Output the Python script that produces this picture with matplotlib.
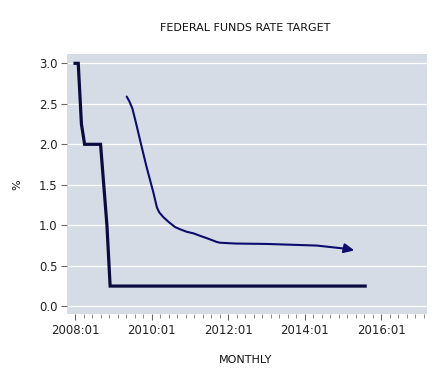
import matplotlib
matplotlib.use("Agg")
import matplotlib.pyplot as plt
from matplotlib.ticker import MultipleLocator, FuncFormatter

# --- data -------------------------------------------------------------
# fed funds target, monthly from 2008:01 to 2015:08
rate_2008 = [3.0, 3.0, 2.25, 2.0, 2.0, 2.0, 2.0, 2.0, 2.0, 1.5, 1.0, 0.25]
n_zero_months = 80  # 2009:01 .. 2015:08 at the 0.25 upper bound
rates = rate_2008 + [0.25] * n_zero_months
months = [2008 + i / 12 for i in range(len(rates))]

# hand drawn arrow over the chart (year, %)
arrow_x = [2009.35, 2009.42, 2009.50, 2009.60, 2009.70, 2009.87, 2009.96,
           2010.05, 2010.10, 2010.14, 2010.20, 2010.31, 2010.45, 2010.61,
           2010.75, 2010.92, 2011.10, 2011.27, 2011.45, 2011.62, 2011.70,
           2011.79, 2012.20, 2013.01, 2014.32, 2015.10]
arrow_y = [2.59, 2.53, 2.44, 2.25, 2.05, 1.72, 1.56,
           1.40, 1.30, 1.22, 1.16, 1.10, 1.04, 0.98,
           0.95, 0.92, 0.90, 0.87, 0.84, 0.81, 0.795,
           0.785, 0.775, 0.77, 0.75, 0.71]
arrow_tip = (2015.30, 0.69)

# --- plot ---------------------------------------------------------------
fig = plt.figure(figsize=(4.45, 3.85), dpi=100)
ax = fig.add_axes([0.1506, 0.1844, 0.8090, 0.6753])
ax.set_facecolor("#d5dce5")

ax.plot(months, rates, color="#0b0b40", lw=2.3, solid_capstyle="projecting",
        solid_joinstyle="miter")

ax.plot(arrow_x, arrow_y, color="#0c0c6e", lw=1.5, solid_joinstyle="round",
        solid_capstyle="round")
ax.annotate("", xy=arrow_tip, xytext=(arrow_x[-1], arrow_y[-1]),
            arrowprops=dict(arrowstyle="-|>,head_length=0.6,head_width=0.28",
                            color="#0c0c6e", lw=1.5, shrinkA=0, shrinkB=0))

ax.set_xlim(2007.79, 2017.20)
ax.set_ylim(-0.095, 3.115)

ax.yaxis.set_major_locator(MultipleLocator(0.5))
ax.yaxis.set_major_formatter(FuncFormatter(lambda v, p: "%.1f" % v))
ax.xaxis.set_major_locator(MultipleLocator(2))
ax.xaxis.set_minor_locator(MultipleLocator(2 / 9))
ax.xaxis.set_major_formatter(FuncFormatter(lambda v, p: "%d:01" % round(v)))

ax.grid(axis="y", color="white", lw=0.9)
ax.set_axisbelow(True)
for s in ax.spines.values():
    s.set_visible(False)

ax.tick_params(axis="both", which="major", labelsize=8.5, color="#666666",
               length=4, width=0.8, labelcolor="#222222")
ax.tick_params(axis="x", which="minor", color="#888888", length=3, width=0.7)
ax.tick_params(axis="y", pad=3)

fig.text(0.551, 0.927, "FEDERAL FUNDS RATE TARGET", ha="center", va="center",
         fontsize=8, color="#111111")
fig.text(0.551, 0.065, "MONTHLY", ha="center", va="center", fontsize=8,
         color="#111111")
fig.text(0.038, 0.52, "%", ha="center", va="center", rotation=90, fontsize=8,
         color="#111111")

fig.savefig("out.png", dpi=100, facecolor="white")
